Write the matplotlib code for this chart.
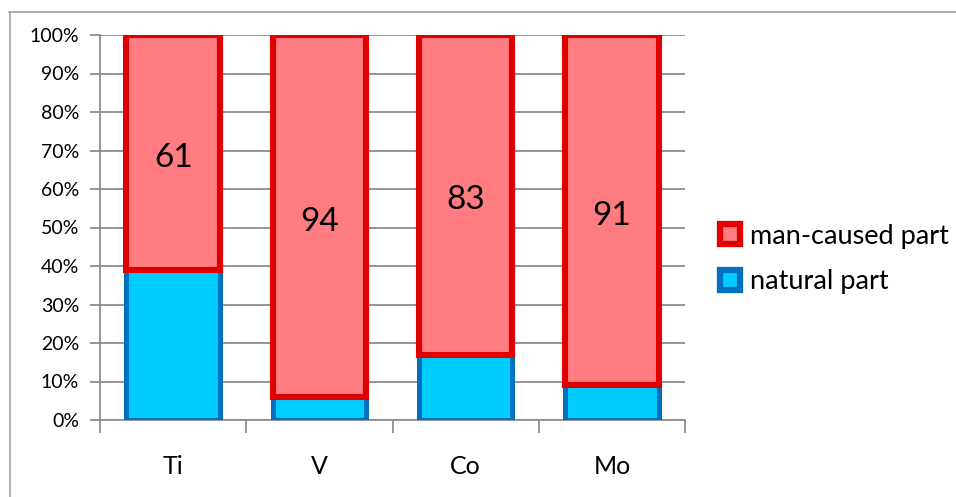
import matplotlib
matplotlib.use('Agg')
import matplotlib.pyplot as plt
from matplotlib.lines import Line2D
from matplotlib.transforms import offset_copy
import numpy as np

# data (percent)
elements = ['Ti', 'V', 'Co', 'Mo']
natural = [39, 6, 17, 9]
man_caused = [61, 94, 83, 91]

red_fill = '#FF7C80'
red_edge = '#E00000'
blue_fill = '#00CCFF'
blue_edge = '#0070C0'
grid_col = '#8C8C8C'

plt.rcParams['font.family'] = ['Lato', 'DejaVu Sans']

fig = plt.figure(figsize=(9.56, 4.97), dpi=100)
ax = fig.add_axes([100 / 956, 77 / 497, 585 / 956, 385 / 497])

x = np.arange(len(elements))
w = 0.64
ax.bar(x, natural, width=w, color=blue_fill, edgecolor=blue_edge, linewidth=3.6, zorder=3)
ax.bar(x, man_caused, width=w, bottom=natural, color=red_fill,
       edgecolor=red_edge, linewidth=4.4, zorder=4)

# value labels in the middle of the man-caused part (slightly lowered like Excel does)
label_tr = offset_copy(ax.transData, fig=fig, x=0, y=-4, units='points')
for xi, n, m in zip(x, natural, man_caused):
    ax.text(xi, n + m / 2, str(m), ha='center', va='center', fontsize=24,
            zorder=5, transform=label_tr)

ax.set_xlim(-0.5, len(elements) - 0.5)
ax.set_ylim(0, 100)
ax.set_yticks(np.arange(0, 101, 10))
ax.set_yticklabels([f'{v}%' for v in range(0, 101, 10)], fontsize=14)
ax.yaxis.grid(True, color=grid_col, linewidth=1.3, zorder=0)
ax.set_axisbelow(True)

# category boundaries as major ticks, names as minor ticks
ax.set_xticks(np.arange(-0.5, len(elements), 1.0))
ax.set_xticklabels([])
ax.set_xticks(x, minor=True)
ax.set_xticklabels(elements, minor=True, fontsize=18)
ax.tick_params(axis='x', which='major', length=9, width=1.3, color=grid_col)
ax.tick_params(axis='x', which='minor', length=0, pad=25)
ax.tick_params(axis='y', length=7, width=1.3, color=grid_col, pad=8)

for s in ['top', 'right']:
    ax.spines[s].set_visible(False)
for s in ['left', 'bottom']:
    ax.spines[s].set_color(grid_col)
    ax.spines[s].set_linewidth(1.3)

handles = [
    Line2D([], [], marker='s', linestyle='none', markersize=14.5,
           markerfacecolor=red_fill, markeredgecolor=red_edge, markeredgewidth=4.5),
    Line2D([], [], marker='s', linestyle='none', markersize=14.5,
           markerfacecolor=blue_fill, markeredgecolor=blue_edge, markeredgewidth=4.5),
]
fig.legend(handles, ['man-caused part', 'natural part'], loc='center left',
           bbox_to_anchor=(693 / 956, 1 - 259 / 497), frameon=False, fontsize=19.5,
           handlelength=0.9, handletextpad=0.3, labelspacing=0.75)

# outer chart border (only top and left visible in the crop)
fig.add_artist(Line2D([9 / 956, 1.0], [1 - 11.5 / 497, 1 - 11.5 / 497],
                      transform=fig.transFigure, color='#A0A0A0', linewidth=1.2))
fig.add_artist(Line2D([9.5 / 956, 9.5 / 956], [0, 1 - 11.5 / 497],
                      transform=fig.transFigure, color='#A0A0A0', linewidth=1.2))

fig.savefig('out.png', dpi=100)
